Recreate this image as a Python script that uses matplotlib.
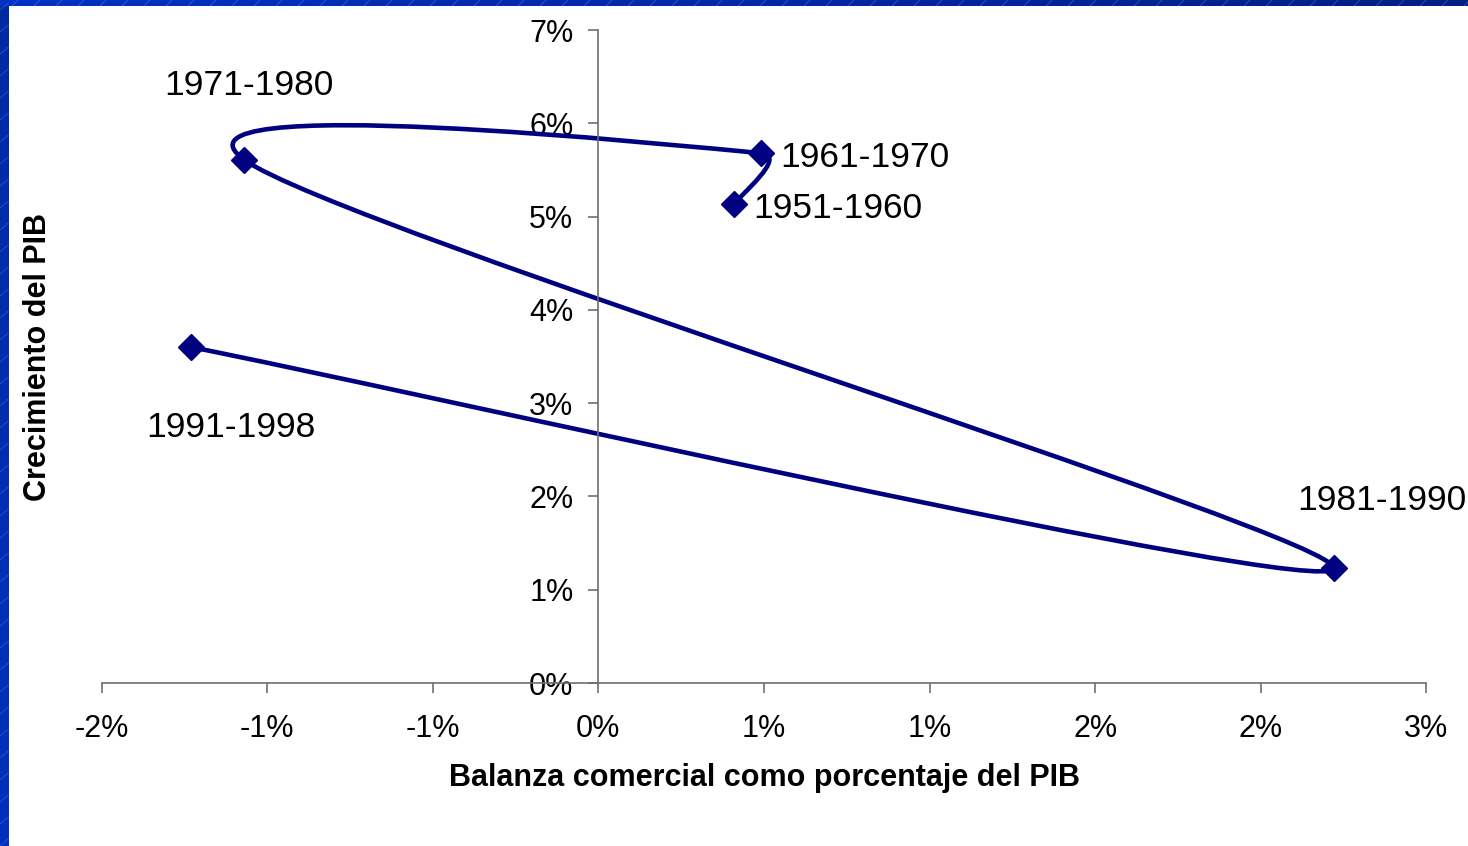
import numpy as np
import matplotlib
matplotlib.use("Agg")
import matplotlib.pyplot as plt
from matplotlib.path import Path
from matplotlib.patches import PathPatch
from matplotlib.lines import Line2D

# ---------------- data ----------------
periods = ["1951-1960", "1961-1970", "1971-1980", "1981-1990", "1991-1998"]
trade_balance = [0.41, 0.49, -1.07, 2.22, -1.23]   # % of GDP
gdp_growth = [5.13, 5.68, 5.61, 1.23, 3.60]        # %
x_ticks = [-1.5, -1.0, -0.5, 0.0, 0.5, 1.0, 1.5, 2.0, 2.5]
x_tick_labels = ["-2%", "-1%", "-1%", "0%", "1%", "1%", "2%", "2%", "3%"]
y_ticks = [0, 1, 2, 3, 4, 5, 6, 7]
y_tick_labels = ["0%", "1%", "2%", "3%", "4%", "5%", "6%", "7%"]
x_title = "Balanza comercial como porcentaje del PIB"
y_title = "Crecimiento del PIB"

# label placement (offset in pixels from the point, horizontal alignment)
label_layout = {
    "1951-1960": ((19, -14), "left"),
    "1961-1970": ((20, -14), "left"),
    "1971-1980": ((5, 65), "center"),
    "1981-1990": ((48, 58), "center"),
    "1991-1998": ((40, -90), "center"),
}

plt.rcParams["font.family"] = ["Liberation Sans", "DejaVu Sans"]

W, H = 1468, 846
fig = plt.figure(figsize=(W / 100, H / 100), dpi=100)
fig.patch.set_facecolor("white")

# ---- decorative blue frame (top and left) ----
grad = np.linspace(0, 1, 256).reshape(1, -1)
top_ax = fig.add_axes([0, 1 - 6 / H, 1, 6 / H])
top_ax.imshow(grad, aspect="auto", extent=[0, 1, 0, 1],
              cmap=matplotlib.colors.LinearSegmentedColormap.from_list(
                  "t", ["#0032c4", "#0028a8", "#001e84"]))
top_ax.set_axis_off()
left_ax = fig.add_axes([0, 0, 8.3 / W, 1 - 6 / H])
left_ax.imshow(grad.T, aspect="auto", extent=[0, 1, 0, 1],
               cmap=matplotlib.colors.LinearSegmentedColormap.from_list(
                   "l", ["#002aa4", "#0030bc"]))
left_ax.set_axis_off()
for xs in range(-10, W, 22):
    fig.add_artist(Line2D([xs / W, (xs + 6) / W], [1 - 6 / H, 1.0],
                          transform=fig.transFigure, color="#6f8ae0",
                          lw=0.6, alpha=0.5))
for ys in range(0, H, 22):
    fig.add_artist(Line2D([0, 8.3 / W], [ys / H, (ys + 7) / H],
                          transform=fig.transFigure, color="#6f8ae0",
                          lw=0.6, alpha=0.4))

# ---- main axes ----
ax = fig.add_axes([101.7 / W, (H - 683) / H, (1426.3 - 101.7) / W, (683 - 30) / H])
ax.set_xlim(x_ticks[0], x_ticks[-1])
ax.set_ylim(y_ticks[0], y_ticks[-1])
ax.set_facecolor("none")

axis_color = "#6e6e6e"
ax.spines["left"].set_position(("data", 0))
ax.spines["bottom"].set_position(("data", 0))
ax.spines["top"].set_visible(False)
ax.spines["right"].set_visible(False)
for s in ("left", "bottom"):
    ax.spines[s].set_color(axis_color)
    ax.spines[s].set_linewidth(1.2)

ax.set_xticks(x_ticks)
ax.set_xticklabels(x_tick_labels)
ax.set_yticks(y_ticks)
ax.set_yticklabels(y_tick_labels)
ax.tick_params(axis="x", direction="out", length=7, width=1.2, color=axis_color,
               labelsize=22, pad=15)
ax.tick_params(axis="y", direction="out", length=7, width=1.2, color=axis_color,
               labelsize=22, pad=11)

# ---- smoothed line (Excel-style Bezier smoothing in display space) ----
navy = "#000080"
pts = ax.transData.transform(np.column_stack([trade_balance, gdp_growth]))
n = len(pts)
verts = [pts[0]]
codes = [Path.MOVETO]
for i in range(n - 1):
    p0 = pts[i - 1] if i > 0 else pts[i]
    p1 = pts[i]
    p2 = pts[i + 1]
    p3 = pts[i + 2] if i + 2 < n else pts[i + 1]
    d12 = np.hypot(*(p2 - p1))
    d02 = np.hypot(*(p2 - p0))
    d13 = np.hypot(*(p3 - p1))
    f1 = 1 / 6 if d02 / 6 < d12 / 2 else d12 / (2 * d02)
    f2 = 1 / 6 if d13 / 6 < d12 / 2 else d12 / (2 * d13)
    verts += [p1 + f1 * (p2 - p0), p2 - f2 * (p3 - p1), p2]
    codes += [Path.CURVE4] * 3
verts_data = ax.transData.inverted().transform(np.array(verts))
ax.add_patch(PathPatch(Path(verts_data, codes), facecolor="none",
                       edgecolor=navy, lw=3.3, joinstyle="round",
                       capstyle="round", zorder=2, clip_on=False))

ax.plot(trade_balance, gdp_growth, linestyle="none", marker="D", ms=13,
        color=navy, mec=navy, mew=1, zorder=3, clip_on=False)

for name, xv, yv in zip(periods, trade_balance, gdp_growth):
    (dx, dy), ha = label_layout[name]
    ax.annotate(name, (xv, yv), xytext=(dx, dy), textcoords="offset pixels",
                ha=ha, va="baseline", fontsize=25.5, color="black")

fig.text(765 / W, 1 - 778 / H, x_title, ha="center", va="center",
         fontsize=22, fontweight="bold")
fig.text(38 / W, 1 - 357 / H, y_title, ha="center", va="center",
         rotation=90, fontsize=22, fontweight="bold")

fig.savefig("out.png", dpi=100, facecolor="white")
